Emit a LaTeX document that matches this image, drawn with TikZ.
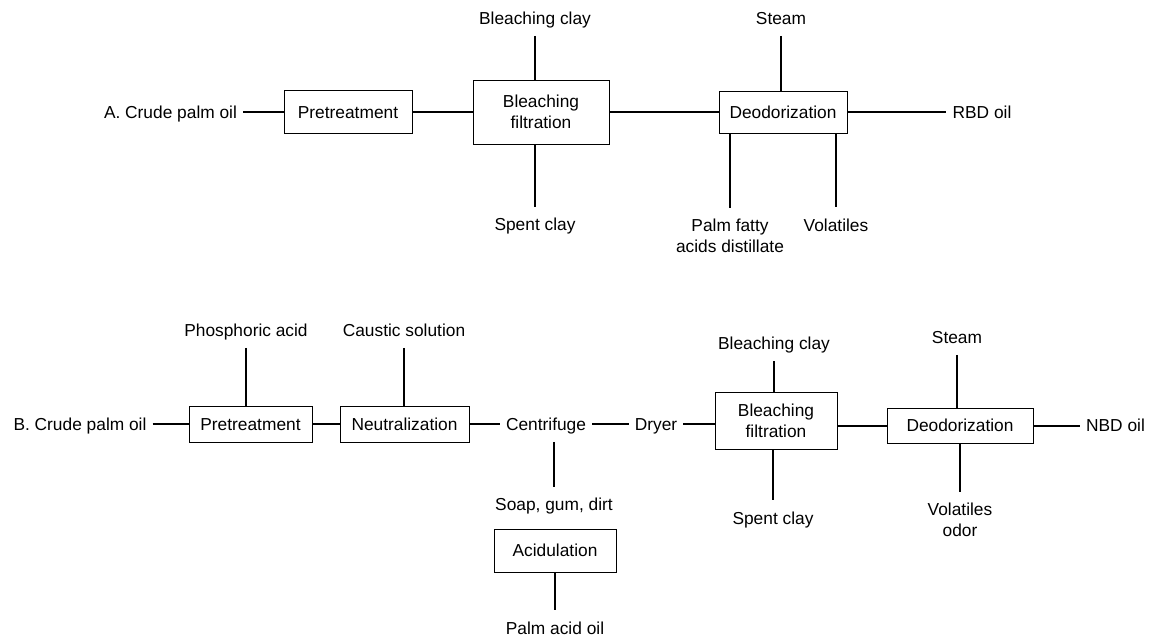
\documentclass[tikz,border=0pt]{standalone}
\usepackage{fontspec}
\setmainfont{Liberation Sans}
\begin{document}
\begin{tikzpicture}[x=0.75pt,y=-0.75pt,
  every node/.style={font=\fontsize{13}{15.75}\selectfont},
  conn/.style={line width=1.5pt},
  boxbase/.style={draw, line width=0.65pt, inner sep=0pt},
  box/.style={boxbase, text height=9.4pt, text depth=0pt},
  box2/.style={boxbase, align=center},
  lbl/.style={inner xsep=4.5pt, inner ysep=8.5pt, text height=9.4pt, text depth=0pt},
  lbl2/.style={inner xsep=4.5pt, inner ysep=8.5pt, align=center, anchor=north}]
\useasboundingbox (0,0) rectangle (1151,638);

% ---------- A ----------
\node[lbl] (aIn) at (170.5,112) {A. Crude palm oil};
\node[box, minimum width=96pt, minimum height=32.25pt] (aPre) at (348,112) {Pretreatment};
\node[box2, minimum width=102pt, minimum height=48pt] (aBl) at (541,112) {Bleaching\\filtration};
\node[box, minimum width=96pt, minimum height=31.5pt] (aDeo) at (783,112) {Deodorization};
\node[lbl] (aOut) at (982,112) {RBD oil};
\node[lbl] (aClayIn) at (535,18) {Bleaching clay};
\node[lbl] (aSpent) at (535,224.5) {Spent clay};
\node[lbl] (aSteam) at (781,18) {Steam};
\node[lbl2] (aPfad) at (730,207.7) {Palm fatty\\acids distillate};
\node[lbl] (aVol) at (836,225.3) {Volatiles};

\draw[conn] (aIn) -- (aPre);
\draw[conn] (aPre) -- (aBl);
\draw[conn] (aBl) -- (aDeo);
\draw[conn] (aDeo) -- (aOut);
\draw[conn] (aClayIn) -- (aClayIn |- aBl.north);
\draw[conn] (aSpent |- aBl.south) -- (aSpent);
\draw[conn] (aSteam) -- (aSteam |- aDeo.north);
\draw[conn] (aPfad.north |- aDeo.south) -- (aPfad.north);
\draw[conn] (aVol |- aDeo.south) -- (aVol);

% ---------- B ----------
\node[lbl] (bIn) at (80,424) {B. Crude palm oil};
\node[box, minimum width=92.25pt, minimum height=27pt] (bPre) at (250.5,424) {Pretreatment};
\node[box, minimum width=96.75pt, minimum height=27pt] (bNeu) at (404.5,424) {Neutralization};
\node[lbl] (bCen) at (546,424) {Centrifuge};
\node[lbl] (bDry) at (656,424) {Dryer};
\node[box2, minimum width=91.5pt, minimum height=42.75pt] (bBl) at (776,420.5) {Bleaching\\filtration};
\node[box, minimum width=109.5pt, minimum height=26.25pt] (bDeo) at (960,425.5) {Deodorization};
\node[lbl] (bOut) at (1115.5,425.5) {NBD oil};
\node[lbl] (bPhos) at (246,330) {Phosphoric acid};
\node[lbl] (bCaus) at (404,330) {Caustic solution};
\node[lbl] (bClayIn) at (774,343.5) {Bleaching clay};
\node[lbl] (bSteam) at (957,337) {Steam};
\node[lbl] (bSoap) at (554,504.5) {Soap, gum, dirt};
\node[box, minimum width=91.5pt, minimum height=32.25pt] (bAcid) at (555,550.5) {Acidulation};
\node[lbl] (bPao) at (555,628) {Palm acid oil};
\node[lbl] (bSpent) at (773,518) {Spent clay};
\node[lbl2] (bVol) at (960,491.7) {Volatiles\\odor};

\draw[conn] (bIn) -- (bPre);
\draw[conn] (bPre) -- (bNeu);
\draw[conn] (bNeu) -- (bCen);
\draw[conn] (bCen) -- (bDry);
\draw[conn] (bDry) -- (bDry -| bBl.west);
\draw[conn] (bDeo.west -| bBl.east) -- (bDeo);
\draw[conn] (bDeo) -- (bOut);
\draw[conn] (bPhos) -- (bPhos |- bPre.north);
\draw[conn] (bCaus) -- (bCaus |- bNeu.north);
\draw[conn] (bClayIn) -- (bClayIn |- bBl.north);
\draw[conn] (bSpent |- bBl.south) -- (bSpent);
\draw[conn] (bSteam) -- (bSteam |- bDeo.north);
\draw[conn] (bVol.north |- bDeo.south) -- (bVol.north);
\draw[conn] (bSoap |- bCen.south) -- (bSoap);
\draw[conn] (bAcid) -- (bPao);
\end{tikzpicture}
\end{document}
